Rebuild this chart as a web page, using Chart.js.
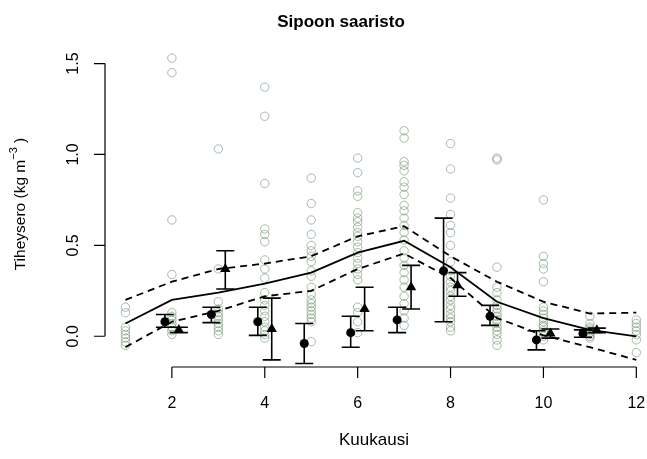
<!DOCTYPE html>
<html>
<head>
<meta charset="utf-8">
<script src="https://cdn.jsdelivr.net/npm/chart.js@4.4.1/dist/chart.umd.min.js"></script>
<style>
  html, body { margin: 0; padding: 0; background: #ffffff; }
  canvas { display: block; }
</style>
</head>
<body>
<canvas id="chart" width="647" height="459"></canvas>
<script>
// Monthly density differences (kg m^-3), Sipoon saaristo
const months = [1, 2, 3, 4, 5, 6, 7, 8, 9, 10, 11, 12];

// Individual observations per month
const obsJan = [0.16, 0.13, 0.05, 0.03, 0.01, -0.01, -0.03, -0.05];
const obsFeb = [1.53, 1.45, 0.64, 0.34, 0.13, 0.11, 0.09, 0.07, 0.05, 0.03, 0.01];
const obsMar = [1.03, 0.37, 0.19, 0.15, 0.13, 0.11, 0.09, 0.07, 0.05, 0.03, 0.01];
const obsApr = [1.37, 1.21, 0.84, 0.59, 0.56, 0.52, 0.42, 0.37, 0.32, 0.24, 0.20, 0.17, 0.14, 0.11, 0.08, 0.05, 0.03, 0.01, -0.01];
const obsMay = [0.87, 0.73, 0.64, 0.56, 0.50, 0.47, 0.44, 0.41, 0.36, 0.33, 0.27, 0.23, 0.20, 0.18, 0.16, 0.14, 0.12, 0.10, 0.08, -0.03];
const obsJun = [0.98, 0.90, 0.80, 0.77, 0.68, 0.65, 0.63, 0.60, 0.57, 0.55, 0.52, 0.49, 0.46, 0.43, 0.40, 0.37, 0.34, 0.31, 0.16, 0.13, 0.08, 0.02];
const obsJul = [1.13, 1.09, 0.96, 0.94, 0.91, 0.85, 0.82, 0.78, 0.72, 0.69, 0.65, 0.61, 0.57, 0.53, 0.47, 0.43, 0.39, 0.35, 0.31, 0.27, 0.22, 0.18, 0.14, 0.10, 0.06];
const obsAug = [1.06, 0.92, 0.76, 0.67, 0.61, 0.57, 0.50, 0.41, 0.36, 0.33, 0.30, 0.27, 0.25, 0.22, 0.20, 0.17, 0.15, 0.12, 0.10, 0.08, 0.05, 0.03];
const obsSep = [0.98, 0.97, 0.38, 0.27, 0.24, 0.20, 0.17, 0.15, 0.13, 0.11, 0.09, 0.07, 0.05, 0.03, 0.01, -0.02, -0.05];
const obsOct = [0.75, 0.44, 0.40, 0.37, 0.30, 0.16, 0.14, 0.12, 0.10, 0.08, 0.06, 0.05, 0.03, 0.02, 0.00, -0.02];
const obsNov = [0.11, 0.07, 0.05, 0.04, 0.03, 0.02, 0.01, 0.00, -0.01];
const obsDec = [0.09, 0.07, 0.05, 0.03, 0.01, -0.02, -0.09];
const observations = [obsJan, obsFeb, obsMar, obsApr, obsMay, obsJun, obsJul, obsAug, obsSep, obsOct, obsNov, obsDec];

// Seasonal fit with its confidence band
const fitMid   = [0.07, 0.20, 0.24, 0.29, 0.35, 0.46, 0.525, 0.38, 0.19, 0.10, 0.035, 0.00];
const fitUpper = [0.20, 0.30, 0.37, 0.40, 0.44, 0.55, 0.605, 0.44, 0.30, 0.19, 0.125, 0.13];
const fitLower = [-0.06, 0.08, 0.14, 0.22, 0.25, 0.37, 0.455, 0.32, 0.10, 0.005, -0.06, -0.13];

// Group means (circles) with error bars
const dotMonths = [2, 3, 4, 5, 6, 7, 8, 9, 10, 11];
const dotMean   = [0.08, 0.12, 0.08, -0.04, 0.02, 0.09, 0.36, 0.11, -0.02, 0.015];
const dotLow    = [0.05, 0.075, 0.005, -0.15, -0.06, 0.02, 0.08, 0.06, -0.075, -0.005];
const dotHigh   = [0.12, 0.16, 0.16, 0.07, 0.11, 0.16, 0.65, 0.17, 0.03, 0.035];

// Group means (triangles) with error bars
const triMonths = [2, 3, 4, 6, 7, 8, 10, 11];
const triMean   = [0.035, 0.37, 0.04, 0.15, 0.27, 0.28, 0.015, 0.033];
const triLow    = [0.02, 0.26, -0.13, 0.03, 0.15, 0.22, -0.01, 0.02];
const triHigh   = [0.05, 0.47, 0.21, 0.27, 0.39, 0.35, 0.04, 0.045];

// Axis ticks
const xTicks = [2, 4, 6, 8, 10, 12];
const yTicks = [0, 0.5, 1.0, 1.5];
const yTickLabels = ['0.0', '0.5', '1.0', '1.5'];

// Horizontal dodge so the two mean series sit side by side
const DODGE = 0.15;

const FONT = '"Liberation Sans", Arial, Helvetica, sans-serif';

const scatterPoints = [];
observations.forEach((vals, i) => {
  vals.forEach(v => scatterPoints.push({ x: months[i], y: v }));
});

const linePoints = arr => arr.map((v, i) => ({ x: months[i], y: v }));

const dotPoints = dotMonths.map((m, i) => ({ x: m - DODGE, y: dotMean[i], lo: dotLow[i], hi: dotHigh[i] }));
const triPoints = triMonths.map((m, i) => ({ x: m + DODGE, y: triMean[i], lo: triLow[i], hi: triHigh[i] }));

// Error bars for the two mean series
const errorBars = {
  id: 'errorBars',
  afterDatasetsDraw(chart) {
    const { ctx, scales: { x, y } } = chart;
    const cap = 9;
    ctx.save();
    ctx.strokeStyle = '#000';
    ctx.lineWidth = 1.6;
    [dotPoints, triPoints].forEach(set => {
      set.forEach(p => {
        const px = x.getPixelForValue(p.x);
        const yl = y.getPixelForValue(p.lo);
        const yh = y.getPixelForValue(p.hi);
        ctx.beginPath();
        ctx.moveTo(px, yl); ctx.lineTo(px, yh);
        ctx.moveTo(px - cap, yl); ctx.lineTo(px + cap, yl);
        ctx.moveTo(px - cap, yh); ctx.lineTo(px + cap, yh);
        ctx.stroke();
      });
    });
    ctx.restore();
  }
};

// Axes, tick labels and titles
const frame = {
  id: 'frame',
  afterDraw(chart) {
    const { ctx, chartArea, scales: { x, y } } = chart;
    const tick = 11;
    ctx.save();
    ctx.strokeStyle = '#000';
    ctx.fillStyle = '#000';
    ctx.lineWidth = 1.2;

    // x axis
    const axY = chartArea.bottom;
    ctx.beginPath();
    ctx.moveTo(x.getPixelForValue(xTicks[0]), axY);
    ctx.lineTo(x.getPixelForValue(xTicks[xTicks.length - 1]), axY);
    xTicks.forEach(t => {
      const px = x.getPixelForValue(t);
      ctx.moveTo(px, axY); ctx.lineTo(px, axY + tick);
    });
    ctx.stroke();
    ctx.font = '16px ' + FONT;
    ctx.textAlign = 'center';
    ctx.textBaseline = 'middle';
    xTicks.forEach(t => ctx.fillText(String(t), x.getPixelForValue(t), axY + 37));

    // y axis
    const axX = chartArea.left;
    ctx.beginPath();
    ctx.moveTo(axX, y.getPixelForValue(yTicks[0]));
    ctx.lineTo(axX, y.getPixelForValue(yTicks[yTicks.length - 1]));
    yTicks.forEach(t => {
      const py = y.getPixelForValue(t);
      ctx.moveTo(axX, py); ctx.lineTo(axX - tick, py);
    });
    ctx.stroke();
    yTicks.forEach((t, i) => {
      ctx.save();
      ctx.translate(axX - 31, y.getPixelForValue(t));
      ctx.rotate(-Math.PI / 2);
      ctx.fillText(yTickLabels[i], 0, 0);
      ctx.restore();
    });

    // x title
    ctx.font = '17px ' + FONT;
    ctx.fillText('Kuukausi', 374, 440);

    // y title with superscript unit
    ctx.save();
    ctx.translate(21, 204);
    ctx.rotate(-Math.PI / 2);
    const base = '15.5px ' + FONT;
    const sup = '11px ' + FONT;
    const partA = 'Tiheysero (kg m';
    const partB = '\u22123';
    const partC = ' )';
    ctx.font = base;
    const wA = ctx.measureText(partA).width;
    const wC = ctx.measureText(partC).width;
    ctx.font = sup;
    const wB = ctx.measureText(partB).width;
    let start = -(wA + wB + wC) / 2;
    ctx.textAlign = 'left';
    ctx.font = base;
    ctx.fillText(partA, start, 0);
    ctx.font = sup;
    ctx.fillText(partB, start + wA, -7);
    ctx.font = base;
    ctx.fillText(partC, start + wA + wB, 0);
    ctx.restore();

    // main title
    ctx.font = 'bold 17px ' + FONT;
    ctx.textAlign = 'center';
    ctx.fillText('Sipoon saaristo', 341, 22);
    ctx.restore();
  }
};

new Chart(document.getElementById('chart'), {
  type: 'scatter',
  data: {
    datasets: [
      {
        label: 'Havainnot',
        data: scatterPoints,
        pointStyle: 'circle',
        pointRadius: 4.2,
        borderWidth: 1,
        borderColor: 'rgba(80, 125, 80, 0.5)',
        backgroundColor: 'rgba(0,0,0,0)',
        order: 5
      },
      {
        type: 'line',
        label: 'Sovite',
        data: linePoints(fitMid),
        borderColor: '#000',
        borderWidth: 1.8,
        pointRadius: 0,
        tension: 0,
        fill: false,
        order: 3
      },
      {
        type: 'line',
        label: 'Yläraja',
        data: linePoints(fitUpper),
        borderColor: '#000',
        borderWidth: 1.8,
        borderDash: [7, 5],
        pointRadius: 0,
        tension: 0,
        fill: false,
        order: 3
      },
      {
        type: 'line',
        label: 'Alaraja',
        data: linePoints(fitLower),
        borderColor: '#000',
        borderWidth: 1.8,
        borderDash: [7, 5],
        pointRadius: 0,
        tension: 0,
        fill: false,
        order: 3
      },
      {
        label: 'Keskiarvo A',
        data: dotPoints,
        pointStyle: 'circle',
        pointRadius: 4.5,
        borderWidth: 0,
        backgroundColor: '#000',
        borderColor: '#000',
        order: 1
      },
      {
        label: 'Keskiarvo B',
        data: triPoints,
        pointStyle: 'triangle',
        pointRadius: 6,
        borderWidth: 0,
        backgroundColor: '#000',
        borderColor: '#000',
        order: 1
      }
    ]
  },
  options: {
    responsive: false,
    animation: false,
    devicePixelRatio: 1,
    layout: { autoPadding: false, padding: { left: 105, right: 0, top: 45, bottom: 92 } },
    plugins: { legend: { display: false }, tooltip: { enabled: false }, title: { display: false } },
    scales: {
      x: { type: 'linear', display: false, min: 0.56, max: 12.23 },
      y: { type: 'linear', display: false, min: -0.169, max: 1.602 }
    }
  },
  plugins: [errorBars, frame]
});
</script>
</body>
</html>
